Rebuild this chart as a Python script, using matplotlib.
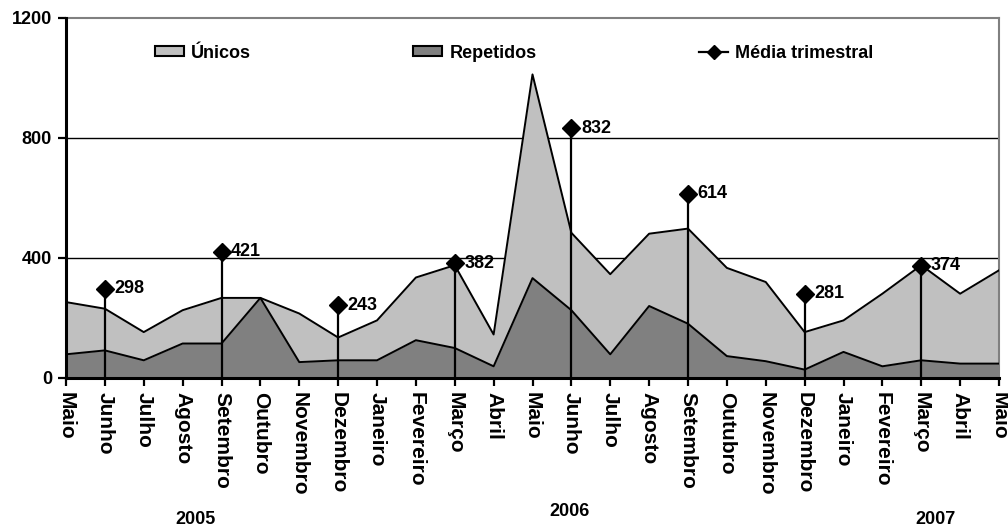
import matplotlib.pyplot as plt
from matplotlib.lines import Line2D
from matplotlib.patches import Patch

plt.rcParams['font.family'] = ['Liberation Sans', 'DejaVu Sans']
plt.rcParams['font.weight'] = 'bold'

meses = ['Maio', 'Junho', 'Julho', 'Agosto', 'Setembro', 'Outubro', 'Novembro',
         'Dezembro', 'Janeiro', 'Fevereiro', 'Março', 'Abril', 'Maio', 'Junho',
         'Julho', 'Agosto', 'Setembro', 'Outubro', 'Novembro', 'Dezembro',
         'Janeiro', 'Fevereiro', 'Março', 'Abril', 'Maio']
unicos = [253, 231, 153, 226, 267, 267, 215, 135, 192, 335, 376, 145, 1012,
          484, 346, 481, 498, 367, 320, 153, 192, 281, 376, 281, 359]
repetidos = [79, 92, 59, 115, 115, 267, 53, 59, 59, 126, 100, 39, 333,
             226, 79, 240, 181, 73, 56, 28, 87, 39, 59, 48, 48]

# quarterly averages, placed on the quarter's last month
media_idx = [1, 4, 7, 10, 13, 16, 19, 22]
media = [298, 421, 243, 382, 832, 614, 281, 374]

anos = ['2005', '2006', '2007']
anos_x = [195, 570, 935]
anos_y = [519, 511, 519]

x = list(range(len(meses)))

fig = plt.figure(figsize=(10.08, 5.26), dpi=100)
ax = fig.add_axes([66 / 1008, 1 - 378 / 526, 933 / 1008, 360 / 526])

ax.fill_between(x, 0, unicos, color='#c0c0c0', lw=0, zorder=2)
ax.plot(x, unicos, color='black', lw=1.4, zorder=3)
ax.fill_between(x, 0, repetidos, color='#808080', lw=0, zorder=4)
ax.plot(x, repetidos, color='black', lw=1.4, zorder=5)

for v in (400, 800):
    ax.axhline(v, color='black', lw=1.0, zorder=1)

ax.vlines(media_idx, 0, media, color='black', lw=1.6, zorder=6)
ax.plot(media_idx, media, ls='none', marker='D', ms=9, color='black', zorder=7)
for i, v in zip(media_idx, media):
    ax.annotate(str(v), (i, v), xytext=(7, 0), textcoords='offset points',
                va='center', ha='left', fontsize=13, fontweight='bold', zorder=8)

ax.set_xlim(0, len(meses) - 1)
ax.set_ylim(0, 1200)
ax.set_yticks([0, 400, 800, 1200])
ax.set_xticks(x)
ax.set_xticklabels(meses, rotation=270, fontsize=15, fontweight='bold')
ax.tick_params(axis='x', length=6, width=1.6, pad=4)
ax.tick_params(axis='y', length=6, width=1.6, labelsize=13, pad=4)

for s in ('left', 'bottom'):
    ax.spines[s].set_linewidth(2.2)
    ax.spines[s].set_zorder(9)
for s in ('top', 'right'):
    ax.spines[s].set_color('#808080')
    ax.spines[s].set_linewidth(1.5)

handles = [Patch(facecolor='#c0c0c0', edgecolor='black', lw=1.5),
           Patch(facecolor='#808080', edgecolor='black', lw=1.5),
           Line2D([], [], color='black', lw=1.6, marker='D', ms=7)]
ax.legend(handles, ['Únicos', 'Repetidos', 'Média trimestral'], ncol=3,
          loc='upper left', bbox_to_anchor=(0.0875, 0.946), frameon=False,
          fontsize=13, handlelength=1.6, handleheight=0.5, handletextpad=0.4,
          columnspacing=9.0, borderaxespad=0)

for t, px, py in zip(anos, anos_x, anos_y):
    fig.text(px / 1008, 1 - py / 526, t, ha='center', va='center',
             fontsize=13, fontweight='bold')

fig.savefig('out.png', dpi=100)
